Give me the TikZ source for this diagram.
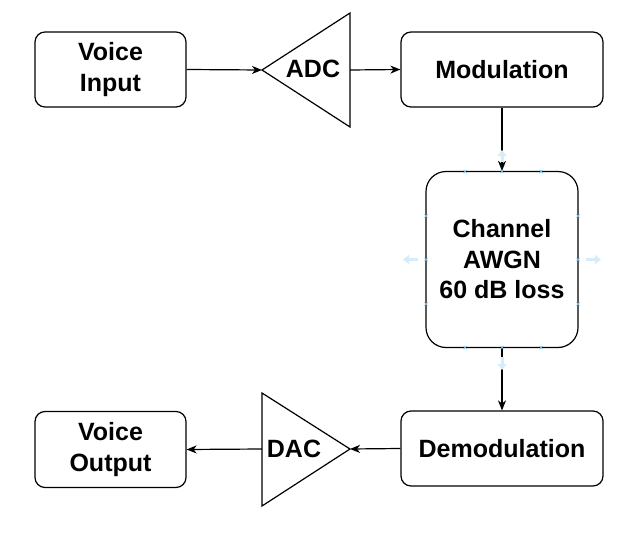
\documentclass[tikz,border=0pt]{standalone}
\usepackage{fontspec}
\setmainfont{Liberation Sans}
\usetikzlibrary{arrows.meta}
\definecolor{handle}{HTML}{7CC3EC}
\definecolor{ghost}{HTML}{D6ECFA}
\begin{document}
\begin{tikzpicture}[x=1pt,y=-1pt,
  lbl/.style={align=center, font=\fontsize{25}{30.5}\selectfont\bfseries, inner sep=0pt},
  box/.style={lbl, draw, line width=1.2pt, rounded corners=10pt},
  conn/.style={line width=1.2pt, -{Stealth[length=10pt,width=8pt,inset=3pt]}},
  tri/.style={draw, line width=1.2pt, line join=miter},
  ghostarrow/.style={ghost, line width=3pt, -{Triangle[length=6pt,width=9pt]}},
  handlemark/.style={handle, line width=0.7pt}]
\useasboundingbox (0,0) rectangle (632,551);
% boxes
\node[box, minimum width=151pt, minimum height=75pt] (vin) at (110.5,69.5) {Voice\\Input};
\node[box, minimum width=202pt, minimum height=75pt] (mod) at (502,69.5) {Modulation};
\node[box, minimum width=152pt, minimum height=176pt, rounded corners=20pt] (ch) at (502,259.5) {Channel\\AWGN\\60 dB loss};
\node[box, minimum width=202pt, minimum height=75pt] (demod) at (502,448.5) {Demodulation};
\node[box, minimum width=151pt, minimum height=76pt] (vout) at (110.5,449.5) {Voice\\Output};
% ADC triangle
\coordinate (adcL) at (262,70);
\coordinate (adcT) at (350,13);
\coordinate (adcB) at (350,127);
\coordinate (adcR) at (350,70);
\draw[tri] (adcL) -- (adcT) -- (adcB) -- cycle;
\node[lbl] (adc) at (313,69) {ADC};
% DAC triangle
\coordinate (dacR) at (350,449);
\coordinate (dacT) at (262,393);
\coordinate (dacB) at (262,506);
\coordinate (dacL) at (262,449);
\draw[tri] (dacR) -- (dacT) -- (dacB) -- cycle;
\node[lbl] (dac) at (294,449) {DAC};
% connectors
\draw[conn] (vin.east) -- (adcL);
\draw[conn] (adcR) -- (mod.west);
\draw[conn] (mod.south) -- (ch.north);
\draw[conn] (ch.south) -- (demod.north);
\draw[conn] (demod.west) -- (dacR);
\draw[conn] (dacL) -- (vout.east);
% faint hover arrows around channel
\coordinate (gu1) at (502,162); \coordinate (gu2) at (502,150);
\coordinate (gd1) at (502,357); \coordinate (gd2) at (502,370);
\coordinate (gl1) at (418,259.5); \coordinate (gl2) at (403,259.5);
\coordinate (gr1) at (586,259.5); \coordinate (gr2) at (601,259.5);
\draw[ghostarrow] (gu1) -- (gu2);
\draw[ghostarrow] (gd1) -- (gd2);
\draw[ghostarrow] (gl1) -- (gl2);
\draw[ghostarrow] (gr1) -- (gr2);
% connection handles
\foreach \p in {(465,171.5),(502,171.5),(541,171.5),(465,347.5),(502,347.5),(541,347.5),
                (426,216),(426,259.5),(426,304),(578,216),(578,259.5),(578,304)}{
  \draw[handlemark] \p ++(-1.6,-1.6) -- ++(3.2,3.2) \p ++(-1.6,1.6) -- ++(3.2,-3.2);
}
\end{tikzpicture}
\end{document}
